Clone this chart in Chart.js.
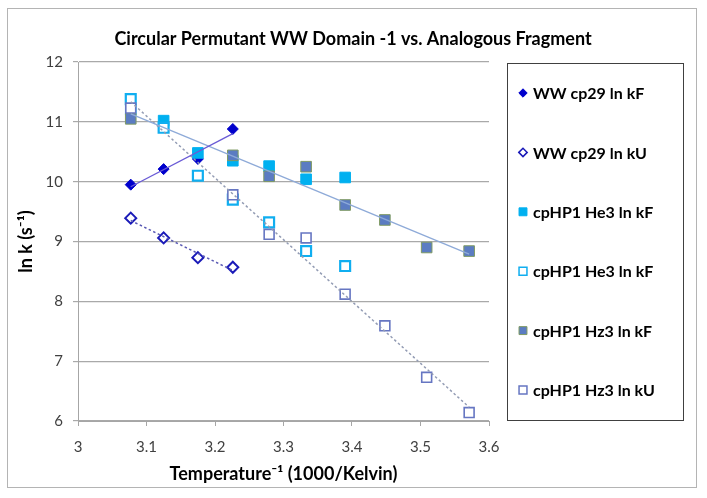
<!DOCTYPE html>
<html>
<head>
<meta charset="utf-8">
<script src="https://cdn.jsdelivr.net/npm/chart.js@4.4.0/dist/chart.umd.min.js"></script>
<style>
  html, body { margin: 0; padding: 0; background: #fff; }
</style>
</head>
<body>
<canvas id="chart" width="707" height="498"></canvas>
<script>
// ---- dados ----
const chartTitle = 'Circular Permutant WW Domain -1 vs. Analogous Fragment';
const xTitle = 'Temperature\u207B\u00B9 (1000/Kelvin)';
const yTitle = 'ln k (s\u207B\u00B9)';

// 1000/T para 325K ... 280K
const invTemp = [3.077, 3.125, 3.175, 3.226, 3.279, 3.333, 3.390, 3.448, 3.509, 3.571];

const wwKF  = [9.95, 10.21, 10.38, 10.88];
const wwKU  = [9.39, 9.06, 8.73, 8.57];
const he3KF = [11.20, 11.02, 10.48, 10.35, 10.26, 10.04, 10.07];
const he3KU = [11.38, 10.90, 10.10, 9.70, 9.32, 8.84, 8.59];
const hz3KF = [11.05, null, null, 10.44, 10.09, 10.25, 9.61, 9.36, 8.90, 8.84];
const hz3KU = [11.23, null, null, 9.78, 9.12, 9.06, 8.12, 7.59, 6.73, 6.14];

const seriesNames = [
  'WW cp29 ln kF', 'WW cp29 ln kU',
  'cpHP1 He3 ln kF', 'cpHP1 He3 ln kF',
  'cpHP1 Hz3 ln kF', 'cpHP1 Hz3 ln kU'
];

const FONT = "Lato, 'Open Sans', sans-serif";

// pontos {x,y} a partir dos arrays
const toPts = ys => ys.map((y, i) => ({ x: invTemp[i], y })).filter(p => p.y !== null);

// linha de tendencia (minimos quadrados), dois extremos
const trend = ys => {
  const pts = toPts(ys);
  const n = pts.length;
  const mx = pts.reduce((s, p) => s + p.x, 0) / n;
  const my = pts.reduce((s, p) => s + p.y, 0) / n;
  let sxy = 0, sxx = 0;
  pts.forEach(p => { sxy += (p.x - mx) * (p.y - my); sxx += (p.x - mx) ** 2; });
  const b = sxy / sxx;
  const x0 = pts[0].x, x1 = pts[n - 1].x;
  return [{ x: x0, y: my + b * (x0 - mx) }, { x: x1, y: my + b * (x1 - mx) }];
};

const series = [
  { label: seriesNames[0], data: toPts(wwKF), pointStyle: 'rectRot', pointRadius: 5.5,
    backgroundColor: '#0000cc', borderColor: '#0000cc', pointBorderWidth: 1 },
  { label: seriesNames[1], data: toPts(wwKU), pointStyle: 'rectRot', pointRadius: 5.5,
    backgroundColor: '#ffffff', borderColor: '#1a1ab8', pointBorderWidth: 2 },
  { label: seriesNames[2], data: toPts(he3KF), pointStyle: 'rect', pointRadius: 7.5,
    backgroundColor: '#00b0f0', borderColor: '#00b0f0', pointBorderWidth: 1 },
  { label: seriesNames[3], data: toPts(he3KU), pointStyle: 'rect', pointRadius: 7,
    backgroundColor: '#ffffff', borderColor: '#10aef0', pointBorderWidth: 2.2 },
  { label: seriesNames[4], data: toPts(hz3KF), pointStyle: 'rect', pointRadius: 7.5,
    backgroundColor: '#5b7cc2', borderColor: '#7f9a63', pointBorderWidth: 1 },
  { label: seriesNames[5], data: toPts(hz3KU), pointStyle: 'rect', pointRadius: 7,
    backgroundColor: '#ffffff', borderColor: '#6676c2', pointBorderWidth: 1.6 }
];

const trendLines = [
  { data: trend(wwKF),  borderColor: '#6a5bd6', borderWidth: 1.3, borderDash: [] },
  { data: trend(wwKU),  borderColor: '#5a5ab4', borderWidth: 1.5, borderDash: [2.5, 2.5] },
  { data: trend(hz3KF), borderColor: '#8eaad8', borderWidth: 1.3, borderDash: [] },
  { data: trend(hz3KU), borderColor: '#939cb4', borderWidth: 1.5, borderDash: [2.5, 2.5] }
];

const datasets = [];
series.forEach((s, i) => {
  datasets.push(Object.assign({ type: 'scatter', order: 20 - i, showLine: false,
    pointHoverRadius: s.pointRadius, isSeries: true }, s));
});
trendLines.forEach(t => {
  datasets.push(Object.assign({ type: 'line', order: 0, pointRadius: 0, pointHoverRadius: 0,
    fill: false, tension: 0, label: '' }, t));
});

// ---- plugin: fundo, moldura, titulo e legenda ----
const frame = {
  id: 'frame',
  beforeDraw(chart) {
    const ctx = chart.ctx;
    ctx.save();
    ctx.fillStyle = '#ffffff';
    ctx.fillRect(0, 0, chart.width, chart.height);
    ctx.strokeStyle = '#b4b4b4';
    ctx.lineWidth = 1;
    ctx.strokeRect(7.5, 8.5, 689, 479);
    ctx.restore();
  },
  afterDraw(chart) {
    const ctx = chart.ctx;
    ctx.save();
    // titulo
    ctx.fillStyle = '#000000';
    ctx.font = 'bold 18px ' + FONT;
    ctx.textAlign = 'center';
    ctx.textBaseline = 'middle';
    ctx.fillText(chartTitle, 353, 39);

    // legenda
    ctx.strokeStyle = '#404040';
    ctx.lineWidth = 1;
    ctx.strokeRect(507.5, 63.5, 176, 357);
    ctx.font = 'bold 16px ' + FONT;
    ctx.textAlign = 'left';
    series.forEach((s, i) => {
      const y = 93 + i * 59.4;
      ctx.fillStyle = s.backgroundColor;
      ctx.strokeStyle = s.borderColor;
      ctx.lineWidth = Math.min(s.pointBorderWidth, 1.5);
      Chart.helpers.drawPoint(ctx, {
        pointStyle: s.pointStyle,
        radius: s.pointStyle === 'rectRot' ? 4.2 : 5.6,
        rotation: 0,
        borderWidth: ctx.lineWidth
      }, 523, y);
      ctx.fillStyle = '#000000';
      ctx.fillText(s.label, 533, y + 1);
    });
    ctx.restore();
  }
};

new Chart(document.getElementById('chart'), {
  type: 'scatter',
  data: { datasets },
  options: {
    responsive: false,
    animation: false,
    events: [],
    layout: { padding: { top: 62, right: 218, bottom: 10, left: 10 } },
    plugins: {
      legend: { display: false },
      title: { display: false },
      tooltip: { enabled: false }
    },
    scales: {
      x: {
        type: 'linear',
        min: 3, max: 3.6,
        afterFit: s => { s.height = 67; },
        border: { display: true, color: '#a6a6a6', width: 1 },
        grid: { drawOnChartArea: false, drawTicks: true, tickLength: 5, color: '#a6a6a6' },
        ticks: {
          stepSize: 0.1,
          padding: 12,
          color: '#404040',
          font: { family: FONT, size: 15 },
          callback: v => String(+v.toFixed(1))
        },
        title: {
          display: true,
          text: xTitle,
          color: '#000000',
          font: { family: FONT, size: 18, weight: 'bold' },
          padding: { top: 2, bottom: 3 }
        }
      },
      y: {
        min: 6, max: 12,
        afterFit: s => { s.width = 68; },
        border: { display: true, color: '#a6a6a6', width: 1 },
        grid: { color: '#a9a9a9', lineWidth: 1.2, drawTicks: true, tickLength: 5 },
        ticks: {
          stepSize: 1,
          padding: 10,
          color: '#404040',
          font: { family: FONT, size: 15 }
        },
        title: {
          display: true,
          text: yTitle,
          color: '#000000',
          font: { family: FONT, size: 18, weight: 'bold' },
          padding: { top: 5, bottom: 4 }
        }
      }
    }
  },
  plugins: [frame]
});
</script>
</body>
</html>
